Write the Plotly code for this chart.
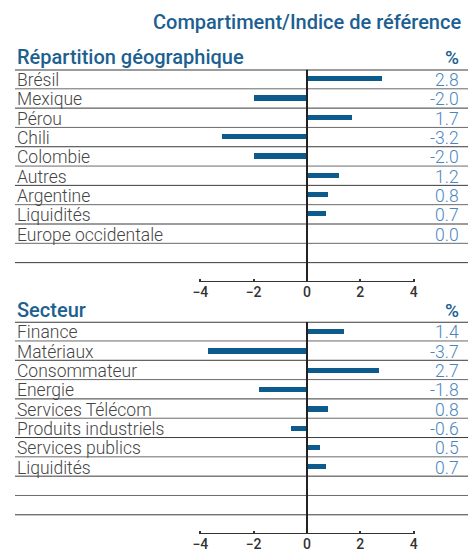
import plotly.graph_objects as go

W, H = 469, 552

title = "Compartiment/Indice de référence"
geo_header = "Répartition géographique"
geo_labels = ["Brésil", "Mexique", "Pérou", "Chili", "Colombie", "Autres",
              "Argentine", "Liquidités", "Europe occidentale"]
geo_values = [2.8, -2.0, 1.7, -3.2, -2.0, 1.2, 0.8, 0.7, 0.0]

sec_header = "Secteur"
sec_labels = ["Finance", "Matériaux", "Consommateur", "Energie", "Services Télécom",
              "Produits industriels", "Services publics", "Liquidités"]
sec_values = [1.4, -3.7, 2.7, -1.8, 0.8, -0.6, 0.5, 0.7]

tick_vals = [-4, -2, 0, 2, 4]
n_rows = 11

BAR = "#0d5b8c"
HEAD = "#1d5f91"
VAL = "#4a86bd"
TXT = "#454545"
LINE = "#3a3a3a"

px_zero = 307.0
px_per_unit = 26.67
x_left, x_right = 15.0, 468.0
xr = [(x_left - px_zero) / px_per_unit, (x_right - px_zero) / px_per_unit]

panels = [
    dict(labels=geo_labels, values=geo_values, header=geo_header, top=70.0, bottom=284.0, head_y=57.0, ax=""),
    dict(labels=sec_labels, values=sec_values, header=sec_header, top=324.0, bottom=538.0, head_y=312.0, ax="2"),
]

fig = go.Figure()
shapes = []
annotations = []

annotations.append(dict(text=title, x=463 / W, y=1 - 22 / H, xref="paper", yref="paper",
                        xanchor="right", yanchor="middle", showarrow=False,
                        font=dict(family="Roboto", size=20, color=HEAD, weight=500)))

for p in panels:
    ax = p["ax"]
    xref = "x" + ax
    yref = "y" + ax
    rows = list(range(len(p["labels"])))
    fig.add_trace(go.Bar(x=p["values"], y=rows, orientation="h", width=0.27,
                         marker=dict(color=BAR, line=dict(width=0)),
                         xaxis=xref, yaxis=yref, showlegend=False, hoverinfo="skip"))
    # row lines
    for k in range(n_rows):
        shapes.append(dict(type="line", xref="paper", yref=yref,
                           x0=x_left / W, x1=x_right / W, y0=k - 0.5, y1=k - 0.5,
                           line=dict(color=LINE if k % 2 == 0 else "#6a6a6a",
                                     width=2 if k == 0 else 1)))
    # zero line
    shapes.append(dict(type="line", xref=xref, yref=yref, x0=0, x1=0,
                       y0=-0.5, y1=n_rows - 0.5, line=dict(color="#222222", width=2)))
    # axis thick segment
    shapes.append(dict(type="line", xref=xref, yref=yref, x0=tick_vals[0], x1=tick_vals[-1],
                       y0=n_rows - 0.5, y1=n_rows - 0.5, line=dict(color="#333333", width=2)))
    for i, (lab, v) in enumerate(zip(p["labels"], p["values"])):
        annotations.append(dict(text=lab, x=x_left / W, y=i, xref="paper", yref=yref,
                                xanchor="left", yanchor="middle", yshift=-1, showarrow=False,
                                font=dict(family="Roboto", size=17.5, color=TXT, weight=300)))
        annotations.append(dict(text=f"{v:.1f}", x=461 / W, y=i, xref="paper", yref=yref,
                                xanchor="right", yanchor="middle", yshift=-1, showarrow=False,
                                font=dict(family="Roboto", size=17.5, color=VAL, weight=300)))
    annotations.append(dict(text=p["header"], x=x_left / W, y=1 - p["head_y"] / H,
                            xref="paper", yref="paper", xanchor="left", yanchor="middle",
                            showarrow=False,
                            font=dict(family="Roboto", size=20, color=HEAD, weight=500)))
    annotations.append(dict(text="%", x=461 / W, y=1 - (p["head_y"] + 1) / H,
                            xref="paper", yref="paper", xanchor="right", yanchor="middle",
                            showarrow=False,
                            font=dict(family="Roboto", size=19, color=HEAD, weight=500)))

    xa = dict(domain=[x_left / W, x_right / W], range=xr, tickvals=tick_vals,
              ticks="inside", ticklen=3, tickwidth=1.5, tickcolor="#333333",
              showline=False, showgrid=False, zeroline=False,
              tickfont=dict(family="Roboto", size=14, color="#333333", weight=500),
              anchor=yref, fixedrange=True)
    ya = dict(domain=[1 - p["bottom"] / H, 1 - p["top"] / H], range=[n_rows - 0.5, -0.5],
              showticklabels=False, showgrid=False, zeroline=False, showline=False,
              ticks="", anchor=xref, fixedrange=True)
    if ax == "":
        fig.update_layout(xaxis=xa, yaxis=ya)
    else:
        fig.update_layout(xaxis2=xa, yaxis2=ya)

fig.update_layout(width=W, height=H, autosize=False,
                  margin=dict(l=0, r=0, t=0, b=0),
                  paper_bgcolor="white", plot_bgcolor="white",
                  shapes=shapes, annotations=annotations, bargap=0)

fig.write_html("out.html", config={"displayModeBar": False},
               post_script="document.body.style.margin='0';document.body.style.overflow='hidden';")
